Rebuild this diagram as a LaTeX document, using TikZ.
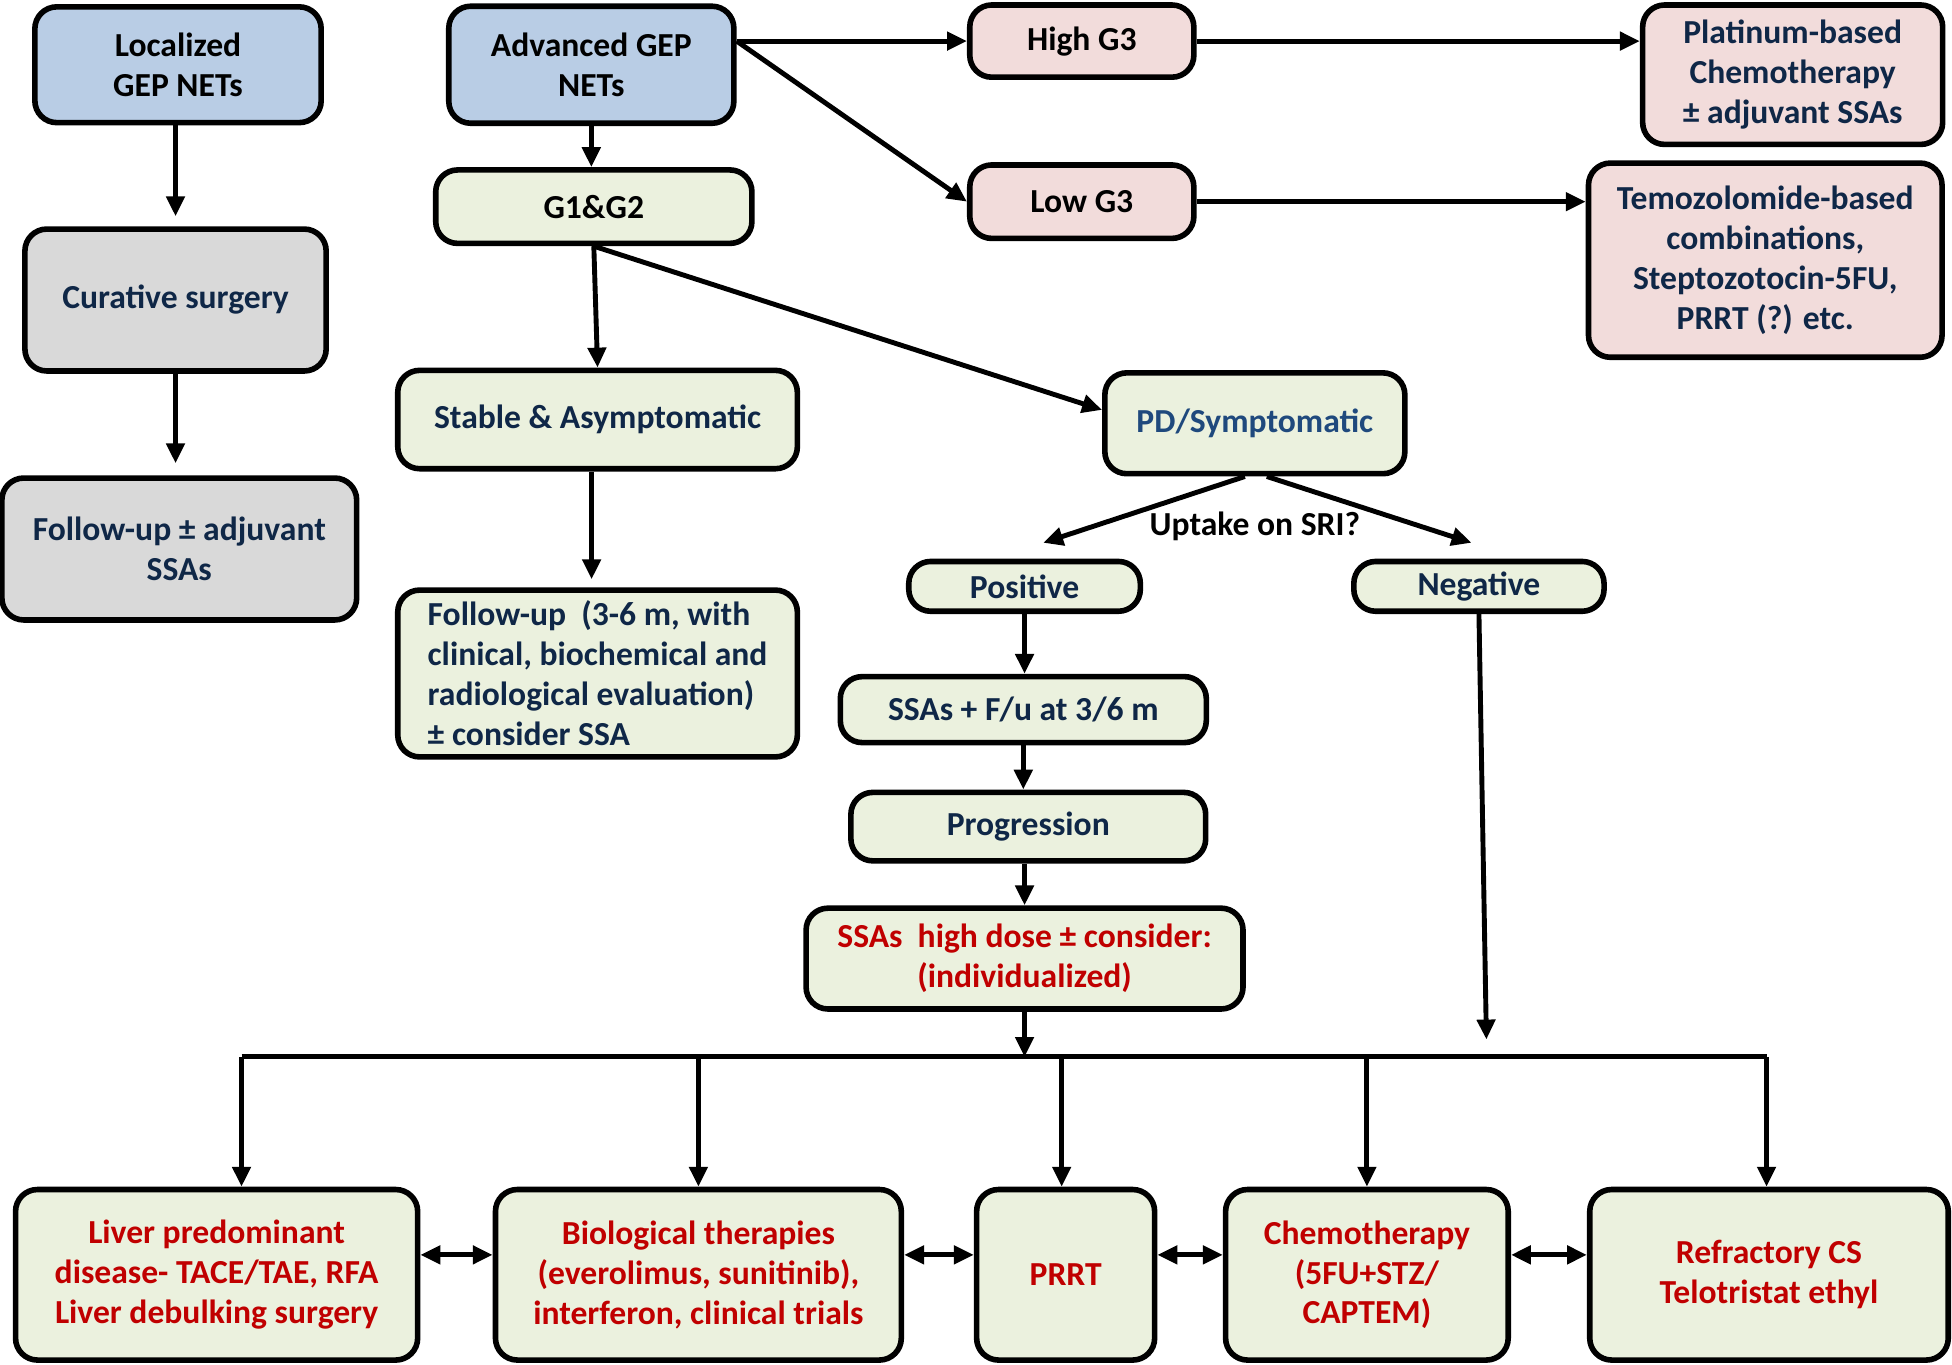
\documentclass[tikz,border=0pt]{standalone}
\usepackage{fontspec}
\setmainfont{Carlito}
\usetikzlibrary{arrows.meta}
\definecolor{boxblue}{HTML}{B9CDE5}
\definecolor{boxgray}{HTML}{D9D9D9}
\definecolor{boxgreen}{HTML}{EBF1DE}
\definecolor{boxpink}{HTML}{F2DCDB}
\definecolor{navytext}{HTML}{0F2747}
\definecolor{pdtext}{HTML}{1F497D}
\definecolor{redtext}{HTML}{C00000}

\begin{document}
\begin{tikzpicture}[x=0.125mm, y=-0.125mm,
	every node/.style={font=\fontsize{9.6}{11.4}\selectfont\bfseries},
	box/.style={draw, line width=1.6pt, rounded corners=2.2mm, align=center, inner sep=0pt},
	sz/.style 2 args={minimum width=#1*0.125mm, minimum height=#2*0.125mm},
	arr/.style={line width=1.4pt, -{Triangle[length=2mm, width=1.8mm]}},
	dbl/.style={line width=1.4pt, {Triangle[length=2mm, width=1.8mm]}-{Triangle[length=2mm, width=1.8mm]}}]
		\useasboundingbox (0, 0) rectangle (1568, 1096);
		% left column
		\node[box, sz={230}{93}, fill=boxblue] (loc) at (143, 52) {Localized\\GEP NETs};
		\node[box, sz={242}{114}, fill=boxgray, text=navytext] (cur) at (141, 241) {Curative surgery};
		\node[box, sz={285}{114}, fill=boxgray, text=navytext] (fupl) at (144, 441) {Follow-up ± adjuvant\\SSAs};
		% middle column
		\node[box, sz={229}{94}, fill=boxblue] (adv) at (475, 52) {Advanced GEP\\NETs};
		\node[box, sz={254}{59}, fill=boxgreen] (g12) at (477, 166) {G1\&G2};
		\node[box, sz={321}{79}, fill=boxgreen, text=navytext] (stab) at (480, 337) {Stable \& Asymptomatic};
		\node[box, sz={321}{134}, fill=boxgreen, text=navytext, align=left] (fupm) at (480, 541) {Follow-up\ \ (3-6 m, with\\clinical, biochemical and\\radiological evaluation)\\± consider SSA};
		% G3 branch
		\node[box, sz={180}{58}, fill=boxpink] (high) at (869, 33) {High G3};
		\node[box, sz={180}{59}, fill=boxpink] (low) at (869, 162) {Low G3};
		\node[box, sz={241}{112}, fill=boxpink, text=navytext] (plat) at (1440, 60) {Platinum-based\\Chemotherapy\\± adjuvant SSAs};
		\node[box, sz={284}{156}, fill=boxpink, text=navytext] (temo) at (1418, 209) {Temozolomide-based\\combinations,\\Steptozotocin-5FU,\\PRRT (?) etc.};
		% PD branch
		\node[box, sz={241}{81}, fill=boxgreen, text=pdtext] (pd) at (1008, 340) {PD/Symptomatic};
		\node (sri) at (1008, 423) {Uptake on SRI?};
		\node[box, sz={186}{40}, fill=boxgreen, text=navytext] (pos) at (823, 471) {Positive};
		\node[box, sz={201}{40}, fill=boxgreen, text=navytext] (neg) at (1188, 471) {Negative};
		\node[box, sz={294}{53}, fill=boxgreen, text=navytext] (ssafu) at (822, 570) {SSAs + F/u at 3/6 m};
		\node[box, sz={285}{55}, fill=boxgreen, text=navytext] (prog) at (826, 664) {Progression};
		\node[box, sz={351}{81}, fill=boxgreen, text=redtext] (hi) at (823, 770) {SSAs\ \ high dose ± consider:\\(individualized)};
		% treatments
		\node[box, sz={323}{137}, fill=boxgreen, text=redtext] (liver) at (174, 1024) {Liver predominant\\disease- TACE/TAE, RFA\\Liver debulking surgery};
		\node[box, sz={326}{137}, fill=boxgreen, text=redtext] (bio) at (561, 1024) {Biological therapies\\(everolimus, sunitinib),\\interferon, clinical trials};
		\node[box, sz={143}{137}, fill=boxgreen, text=redtext] (prrt) at (856, 1024) {PRRT};
		\node[box, sz={227}{137}, fill=boxgreen, text=redtext] (chemo) at (1098, 1024) {Chemotherapy\\(5FU+STZ/\\CAPTEM)};
		\node[box, sz={288}{137}, fill=boxgreen, text=redtext] (refr) at (1421, 1024) {Refractory CS\\Telotristat ethyl};
		\coordinate (busL) at (194, 849);
		\coordinate (busR) at (1419, 849);
		\coordinate (posend) at (838, 436);
		\coordinate (negend) at (1182, 436);
		\coordinate (negdrop) at (1194, 835);
		% connectors
		\draw[arr, shorten >=1mm] (loc.south -| cur.north) -- (cur.north);
		\draw[arr, shorten >=1.2mm] (cur.south) -- (cur.south |- fupl.north);
		\draw[arr] (adv.south) -- (adv.south |- g12.north);
		\draw[arr] (g12.south) -- (stab.north);
		\draw[arr, shorten >=0.8mm] ([xshift=-0.6mm]stab.south) -- ([xshift=-0.6mm]fupm.north);
		\draw[arr] (adv.east |- high.west) -- (high.west);
		\draw[arr] (adv.east |- high.west) -- (low.west);
		\draw[arr] (high.east) -- (high.east -| plat.west);
		\draw[arr] (low.east) -- (low.east -| temo.west);
		\draw[arr] (g12.south) -- (pd.175);
		\draw[arr] ([xshift=-1mm]pd.south) -- (posend);
		\draw[arr] ([xshift=1.2mm]pd.south) -- (negend);
		\draw[arr] (pos.south) -- (ssafu.north -| pos.south);
		\draw[arr] (ssafu.south) -- (ssafu.south |- prog.north);
		\draw[arr] (hi.north |- prog.south) -- (hi.north);
		\draw[arr] (hi.south) -- (hi.south |- busL);
		\draw[arr] (neg.south) -- (negdrop);
		\draw[line width=1.4pt] (busL) -- (busR);
		\draw[arr] (busL) -- (busL |- liver.north);
		\draw[arr] (bio.north |- busL) -- (bio.north);
		\draw[arr] ([xshift=-0.4mm]prrt.north |- busL) -- ([xshift=-0.4mm]prrt.north);
		\draw[arr] (chemo.north |- busL) -- (chemo.north);
		\draw[arr] (busR) -- (busR |- refr.north);
		\draw[dbl] ([yshift=2mm]liver.east) -- ([yshift=2mm]bio.west);
		\draw[dbl] ([yshift=2mm]bio.east) -- ([yshift=2mm]prrt.west);
		\draw[dbl] ([yshift=2mm]prrt.east) -- ([yshift=2mm]chemo.west);
		\draw[dbl] ([yshift=2mm]chemo.east) -- ([yshift=2mm]refr.west);
	\end{tikzpicture}
\end{document}
